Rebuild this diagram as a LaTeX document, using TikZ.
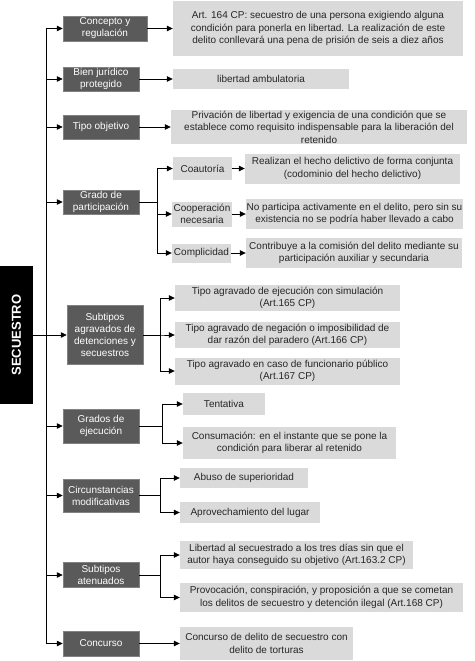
\documentclass[tikz,border=0pt]{standalone}
\usepackage{fontspec}
\setmainfont{Liberation Sans}
\usetikzlibrary{arrows.meta}
\definecolor{darkbox}{RGB}{90,90,90}
\definecolor{darkedge}{RGB}{130,130,130}
\definecolor{lightbox}{RGB}{218,218,218}
\begin{document}
\begin{tikzpicture}[x=1pt,y=-1pt,
  cat/.style={fill=darkbox,draw=darkedge,line width=0.5pt,text=white,align=center,inner sep=0pt,
    font=\fontsize{10}{12}\selectfont},
  leaf/.style={fill=lightbox,draw=none,text=black!85,align=center,inner sep=0pt,
    font=\fontsize{10}{12.5}\selectfont},
  arr/.style={line width=0.8pt,-{Triangle[length=6pt,width=5.5pt]}},
  ln/.style={line width=0.8pt}]
\fill[white] (0,0) rectangle (474,661);
\useasboundingbox (0,0) rectangle (474,661);

% root
\node[fill=black,minimum width=33pt,minimum height=138pt,inner sep=0pt] (root) at (16.5,335) {};
\node[text=white,rotate=90,font=\fontsize{13}{15}\bfseries] (rootlabel) at (root.center) {SECUESTRO};

% categories
\node[cat,minimum width=84pt,minimum height=25pt] (c1) at (105,28.5) {Concepto y\\regulación};
\node[cat,minimum width=76pt,minimum height=24pt] (c2) at (101,79) {Bien jurídico\\protegido};
\node[cat,minimum width=76pt,minimum height=24pt] (c3) at (101,127) {Tipo objetivo};
\node[cat,minimum width=76pt,minimum height=24pt] (c4) at (101,202) {Grado de\\participación};
\node[cat,minimum width=76pt,minimum height=59pt] (c5) at (105,335) {Subtipos\\agravados de\\detenciones y\\secuestros};
\node[cat,minimum width=76pt,minimum height=34pt] (c6) at (101,426) {Grados de\\ejecución};
\node[cat,minimum width=76pt,minimum height=33pt] (c7) at (101,495.5) {Circunstancias\\modificativas};
\node[cat,minimum width=76pt,minimum height=25pt] (c8) at (101,575) {Subtipos\\atenuados};
\node[cat,minimum width=76pt,minimum height=25pt] (c9) at (101,643.5) {Concurso};

% leaves
\node[leaf,minimum width=290pt,minimum height=55pt] (l1) at (318,28.5) {Art. 164 CP: secuestro de una persona exigiendo alguna\\condición para ponerla en libertad. La realización de este\\delito conllevará una pena de prisión de seis a diez años};
\node[leaf,minimum width=176pt,minimum height=20pt] (l2) at (261,79) {libertad ambulatoria};
\node[leaf,minimum width=296pt,minimum height=34pt] (l3) at (319,127) {Privación de libertad y exigencia de una condición que se\\establece como requisito indispensable para la liberación del\\retenido};

\node[leaf,minimum width=59pt,minimum height=23pt] (p1) at (202.5,168.5) {Coautoría};
\node[leaf,minimum width=60pt,minimum height=25pt] (p2) at (202,214) {Cooperación\\necesaria};
\node[leaf,minimum width=59pt,minimum height=19pt] (p3) at (201.5,253) {Complicidad};
\node[leaf,minimum width=215pt,minimum height=30pt] (q1) at (352.5,168.5) {Realizan el hecho delictivo de forma conjunta\\(codominio del hecho delictivo)};
\node[leaf,minimum width=217pt,minimum height=30pt] (q2) at (354.5,214) {No participa activamente en el delito, pero sin su\\existencia no se podría haber llevado a cabo};
\node[leaf,minimum width=216pt,minimum height=30pt] (q3) at (354,253) {Contribuye a la comisión del delito mediante su\\participación auxiliar y secundaria};

\node[leaf,minimum width=225pt,minimum height=26pt] (a1) at (287.5,298) {Tipo agravado de ejecución con simulación\\(Art.165 CP)};
\node[leaf,minimum width=225pt,minimum height=26pt] (a2) at (287.5,335) {Tipo agravado de negación o imposibilidad de\\dar razón del paradero (Art.166 CP)};
\node[leaf,minimum width=225pt,minimum height=27pt] (a3) at (287.5,371) {Tipo agravado en caso de funcionario público\\(Art.167 CP)};

\node[leaf,minimum width=82pt,minimum height=22pt] (e1) at (224,404) {Tentativa};
\node[leaf,minimum width=213pt,minimum height=32pt] (e2) at (289.5,443) {Consumación: en el instante que se pone la\\condición para liberar al retenido};

\node[leaf,minimum width=128pt,minimum height=20pt] (m1) at (244,478) {Abuso de superioridad};
\node[leaf,minimum width=140pt,minimum height=21pt] (m2) at (250,512.5) {Aprovechamiento del lugar};

\node[leaf,minimum width=233pt,minimum height=28pt] (t1) at (296.5,555) {Libertad al secuestrado a los tres días sin que el\\autor haya conseguido su objetivo (Art.163.2 CP)};
\node[leaf,minimum width=283pt,minimum height=29pt] (t2) at (321.5,597.5) {Provocación, conspiración, y proposición a que se cometan\\los delitos de secuestro y detención ilegal (Art.168 CP)};

\node[leaf,minimum width=173pt,minimum height=33pt] (k1) at (266.5,643.5) {Concurso de delito de secuestro con\\delito de torturas};

% trunk
\coordinate (trunk) at (46,0);
\draw[arr] (trunk |- c9.west) -- (trunk |- c1.west) -- (c1.west);
\foreach \c in {c2,c3,c4,c6,c7,c8,c9}
  \draw[arr] (trunk |- \c.west) -- (\c.west);
\draw[arr] (root.east) -- (c5.west);

% direct leaves
\draw[arr] (c1.east) -- (l1.west);
\draw[arr] (c2.east) -- (l2.west);
\draw[arr] (c3.east) -- (l3.west);
\draw[arr] (c9.east) -- (k1.west);

% forks
\foreach \t in {p1,p2,p3} \draw[arr] (c4.east) -- ++(18,0) |- (\t.west);
\draw[arr] (p1.east) -- (q1.west);
\draw[arr] (p2.east) -- (q2.west);
\draw[arr] (p3.east) -- (q3.west);
\foreach \t in {a1,a2,a3} \draw[arr] (c5.east) -- ++(17,0) |- (\t.west);
\foreach \t in {e1,e2} \draw[arr] (c6.east) -- ++(23,0) |- (\t.west);
\foreach \t in {m1,m2} \draw[arr] (c7.east) -- ++(21,0) |- (\t.west);
\foreach \t in {t1,t2} \draw[arr] (c8.east) -- ++(21,0) |- (\t.west);
\end{tikzpicture}
\end{document}
